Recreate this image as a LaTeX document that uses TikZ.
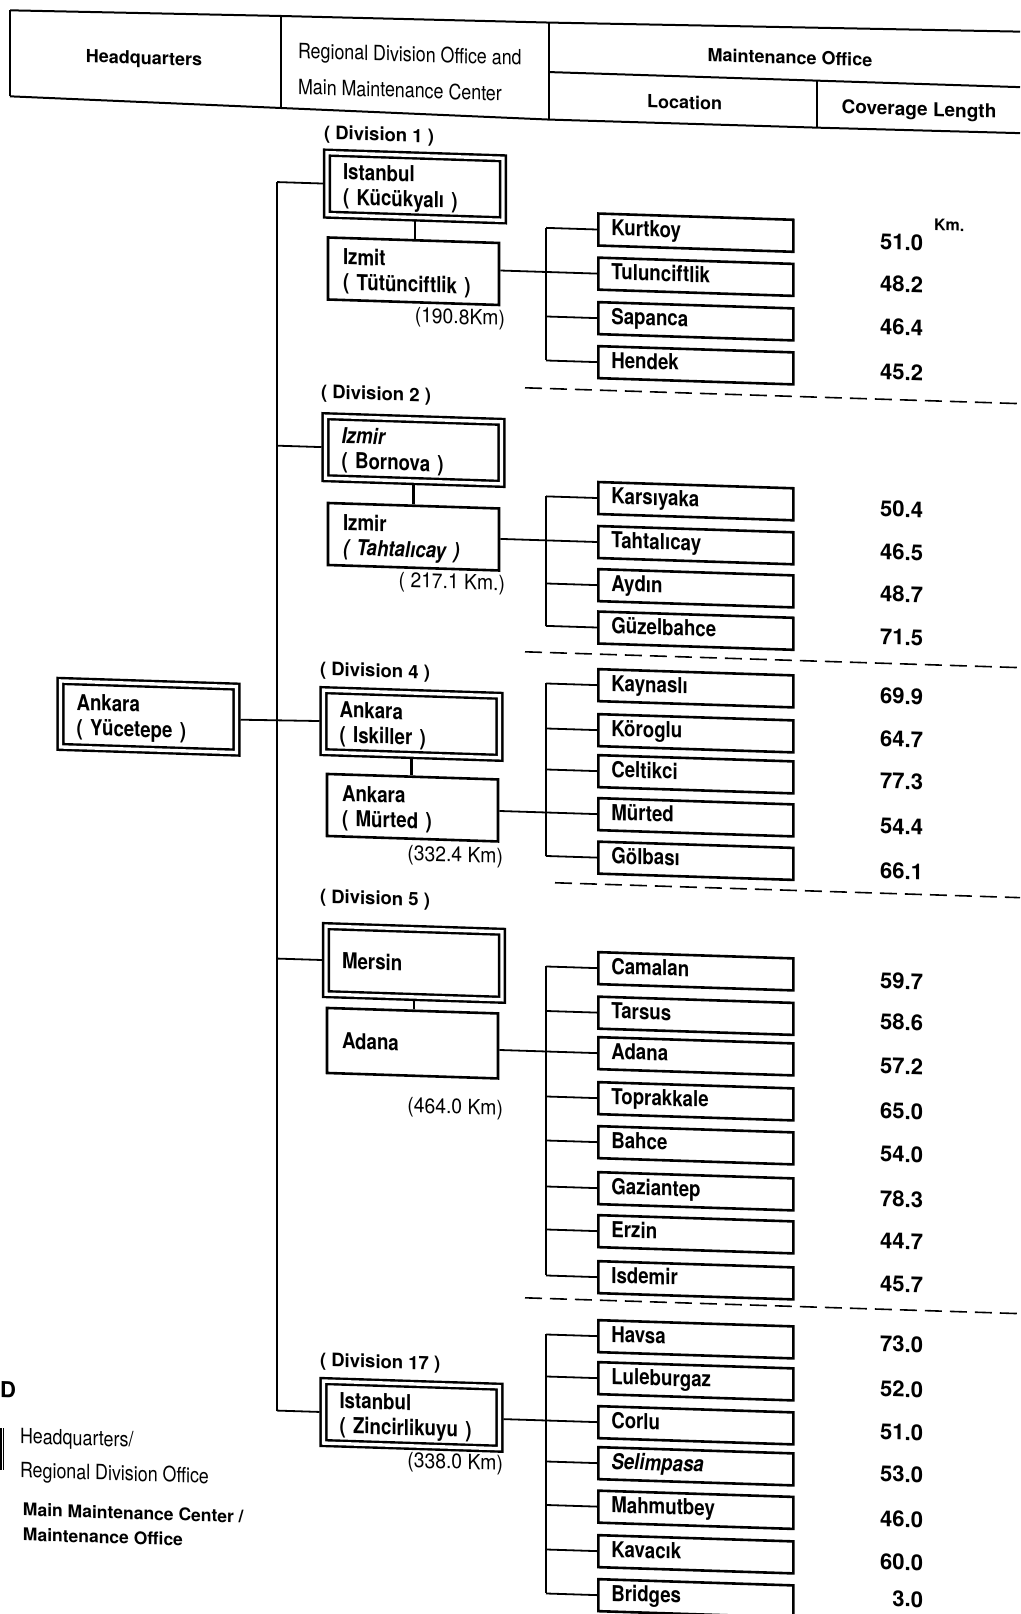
\documentclass[tikz,border=0pt]{standalone}
\usepackage{fontspec}
\setmainfont{TeX Gyre Heros}
\newfontfamily\narrowfont[FakeStretch=0.85]{TeX Gyre Heros}
\newfontfamily\kmfont[FakeStretch=0.92]{TeX Gyre Heros}
\begin{document}
\begin{tikzpicture}[x=1pt,y=-1pt,
  every node/.style={inner sep=0pt, outer sep=0pt},
  rule/.style={line width=2pt},
  link/.style={line width=1.8pt},
  trunkline/.style={line width=2.8pt},
  sepline/.style={line width=1.6pt, dash pattern=on 17pt off 8pt},
  twoline/.style={execute at begin node={\rule{0pt}{21pt}}},
  dbox/.style={draw, line width=2.4pt, double distance=3.4pt, outer sep=4pt,
    minimum width=176pt, minimum height=62pt, inner xsep=16pt, text width=144pt,
    align=left, font=\narrowfont\bfseries\fontsize{22}{25}\selectfont},
  sbox/.style={draw, line width=2.6pt, outer sep=1.3pt,
    minimum width=171pt, minimum height=62pt, inner xsep=15pt, text width=141pt,
    align=left, font=\narrowfont\bfseries\fontsize{22}{25}\selectfont},
  mbox/.style={draw, line width=2.6pt, outer sep=1.3pt, anchor=west,
    minimum width=195pt, minimum height=32pt, inner xsep=13pt, text width=169pt,
    text height=15pt, text depth=4pt, align=left,
    font=\narrowfont\bfseries\fontsize{22}{26}\selectfont},
  num/.style={anchor=east, font=\bfseries\fontsize{22}{26}\selectfont},
  divlbl/.style={anchor=west, font=\bfseries\fontsize{18.5}{22}\selectfont},
  kmlbl/.style={anchor=east, font=\kmfont\fontsize{21}{24}\selectfont},
  head/.style={font=\bfseries\fontsize{18}{22}\selectfont},
  headreg/.style={anchor=west, font=\narrowfont\fontsize{21}{24}\selectfont},
]
\fill[white] (0,0) rectangle (1020,1614);
\useasboundingbox (0,0) rectangle (1020,1614);

\begin{scope}[cm={1,-0.032,0,1,(0pt,16pt)}, transform shape]

% ---------- column headings ----------
\draw[rule] (10,26) -- (281,23) -- (549,21) -- (1020,15);
\draw[rule] (10,112) -- (281,115) -- (549,118) -- (817,117.5) -- (1020,116.5);
\draw[rule] (10,26) -- (10,112);
\draw[rule] (281,23) -- (281,115);
\draw[rule] (549,21) -- (549,118);
\draw[rule] (549,70.5) -- (1020,70.5);
\draw[rule] (817,70.5) -- (817,117.5);
\node[head] (hHQ) at (144,71) {Headquarters};
\node[headreg] (hRegA) at (298,59) {Regional Division Office and};
\node[headreg] (hRegB) at (298,93) {Main Maintenance Center};
\node[head] (hMO) at (790,48) {Maintenance Office};
\node[head] (hLoc) at (684.5,96.5) {Location};
\node[head, font=\bfseries\fontsize{19}{22}\selectfont] (hCov) at (919,97.5) {Coverage Length};

% ---------- headquarters ----------
\node[dbox, twoline, minimum height=66pt] (hq) at (148.5,728) {Ankara\\( Yücetepe )};

% ---------- regional divisions ----------
\node[divlbl] (l1) at (324,139.8) {( Division 1 )};
\node[dbox, twoline] (d1) at (415,189.2) {Istanbul\\( Kücükyalı )};
\node[sbox, twoline] (d1m) at (413.5,274) {Izmit\\( Tütünciftlik )};
\node[kmlbl] (k1) at (505,320) {(190.8Km)};

\node[divlbl] (l2) at (321,399) {( Division 2 )};
\node[dbox, twoline] (d2) at (413.5,452.8) {{\itshape Izmir}\\( Bornova )};
\node[sbox, twoline] (d2m) at (413.5,539.5) {Izmir\\{\itshape ( Tahtalıcay )}};
\node[kmlbl] (k2) at (505,585) {( 217.1 Km.)};

\node[divlbl] (l4) at (320,676) {( Division 4 )};
\node[dbox, twoline] (d4) at (411.5,726.8) {Ankara\\( Iskiller )};
\node[sbox, twoline] (d4m) at (412.5,810.5) {Ankara\\( Mürted )};
\node[kmlbl] (k4) at (503,858) {(332.4 Km)};

\node[divlbl] (l5) at (320,903.5) {( Division 5 )};
\node[dbox, minimum height=68pt] (d5) at (414,965.7) {Mersin};
\node[sbox, minimum height=65pt] (d5m) at (412.5,1046) {Adana};
\node[kmlbl] (k5) at (503,1110) {(464.0 Km)};

\node[divlbl] (l17) at (320,1367) {( Division 17 )};
\node[dbox, twoline] (d17) at (411.5,1417.7) {Istanbul\\( Zincirlikuyu )};
\node[kmlbl] (k17) at (503,1465) {(338.0 Km)};

% ---------- maintenance offices ----------
\node[mbox] (m11) at (597,226.4) {Kurtkoy};
\node[mbox] (m12) at (597,270.5) {Tulunciftlik};
\node[mbox] (m13) at (597,315) {Sapanca};
\node[mbox] (m14) at (597,359) {Hendek};

\node[mbox] (m21) at (597,494.9) {Karsıyaka};
\node[mbox] (m22) at (597,538.9) {Tahtalıcay};
\node[mbox] (m23) at (597,582) {Aydın};
\node[mbox] (m24) at (597,624.4) {Güzelbahce};

\node[mbox] (m41) at (597,682) {Kaynaslı};
\node[mbox] (m42) at (597,727) {Köroglu};
\node[mbox] (m43) at (597,768) {Celtikci};
\node[mbox] (m44) at (597,811) {Mürted};
\node[mbox] (m45) at (597,854.5) {Gölbası};

\node[mbox] (m51) at (597,965) {Camalan};
\node[mbox] (m52) at (597,1009.5) {Tarsus};
\node[mbox] (m53) at (597,1050) {Adana};
\node[mbox] (m54) at (597,1095) {Toprakkale};
\node[mbox] (m55) at (597,1139) {Bahce};
\node[mbox] (m56) at (597,1185) {Gaziantep};
\node[mbox] (m57) at (597,1228) {Erzin};
\node[mbox] (m58) at (597,1274) {Isdemir};

\node[mbox] (m171) at (597,1333) {Havsa};
\node[mbox] (m172) at (597,1375) {Luleburgaz};
\node[mbox] (m173) at (597,1419) {Corlu};
\node[mbox] (m174) at (597,1460) {\itshape Selimpasa};
\node[mbox] (m175) at (597,1503.5) {Mahmutbey};
\node[mbox] (m176) at (597,1548) {Kavacık};
\node[mbox] (m177) at (597,1592) {Bridges};

% ---------- coverage lengths ----------
\node[num] (n11) at (923,229.5) {51.0};
\node[anchor=west, font=\bfseries\fontsize{16}{19}\selectfont] (unit) at (934,210.7) {Km.};
\node[num] (n12) at (923,271.5) {48.2};
\node[num] (n13) at (923,314.5) {46.4};
\node[num] (n14) at (923,359.5) {45.2};

\node[num] (n21) at (923,496.5) {50.4};
\node[num] (n22) at (923,539.5) {46.5};
\node[num] (n23) at (923,581.5) {48.7};
\node[num] (n24) at (923,624.5) {71.5};

\node[num] (n41) at (923,683.5) {69.9};
\node[num] (n42) at (923,726.5) {64.7};
\node[num] (n43) at (923,768.5) {77.3};
\node[num] (n44) at (923,814) {54.4};
\node[num] (n45) at (923,858.5) {66.1};

\node[num] (n51) at (923,968.5) {59.7};
\node[num] (n52) at (923,1009.5) {58.6};
\node[num] (n53) at (923,1053.5) {57.2};
\node[num] (n54) at (923,1098.5) {65.0};
\node[num] (n55) at (923,1141.5) {54.0};
\node[num] (n56) at (923,1186.5) {78.3};
\node[num] (n57) at (923,1228.5) {44.7};
\node[num] (n58) at (923,1271.5) {45.7};

\node[num] (n171) at (923,1331.5) {73.0};
\node[num] (n172) at (923,1376.5) {52.0};
\node[num] (n173) at (923,1419.5) {51.0};
\node[num] (n174) at (923,1461.5) {53.0};
\node[num] (n175) at (923,1506.5) {46.0};
\node[num] (n176) at (923,1549.5) {60.0};
\node[num] (n177) at (923,1586) {3.0};

% ---------- separators between divisions ----------
\coordinate (s1a) at (525,387);  \coordinate (s1b) at (1020,387);
\coordinate (s2a) at (525,651);  \coordinate (s2b) at (1020,651);
\coordinate (s3a) at (555,881);  \coordinate (s3b) at (1020,881);
\coordinate (s4a) at (525,1297); \coordinate (s4b) at (1020,1297);
\draw[sepline] (s1a) -- (s1b);
\draw[sepline] (s2a) -- (s2b);
\draw[sepline] (s3a) -- (s3b);
\draw[sepline] (s4a) -- (s4b);

% ---------- connectors ----------
\coordinate (tk) at (277,0);
\coordinate (bk) at (546,0);
\draw[trunkline] (d1.west -| tk) -- (d17.west -| tk);
\foreach \d in {d1,d2,d5,d17} \draw[link] (\d.west -| tk) -- (\d.west);
\draw[link] (hq.east) -- (d4.west);

\foreach \u/\v in {d1/d1m,d2/d2m,d4/d4m,d5/d5m}
  \draw[line width=2.4pt] (\u.south) -- (\u.south |- \v.north);

\draw[link] (m11.west -| bk) -- (m14.west -| bk);
\draw[link] (m21.west -| bk) -- (m24.west -| bk);
\draw[link] (m41.west -| bk) -- (m45.west -| bk);
\draw[link] (m51.west -| bk) -- (m58.west -| bk);
\draw[link] (m171.west -| bk) -- (m177.west -| bk);
\foreach \m in {m11,m12,m13,m14,m21,m22,m23,m24,m41,m42,m43,m44,m45,
                m51,m52,m53,m54,m55,m56,m57,m58,
                m171,m172,m173,m174,m175,m176,m177}
  \draw[link] (\m.west -| bk) -- (\m.west);

\draw[link] (d1m.east |- m12.west) -- (m12.west -| bk);
\draw[link] (d2m.east |- m22.west) -- (m22.west -| bk);
\draw[link] (d4m.east |- m44.west) -- (m44.west -| bk);
\draw[link] (d5m.east |- m53.west) -- (m53.west -| bk);
\draw[link] (d17.east |- m173.west) -- (m173.west -| bk);

% ---------- legend ----------
\node[anchor=west, font=\bfseries\fontsize{22}{26}\selectfont] (lgD) at (0,1405.7) {D};
\draw[line width=1.6pt] (0.9,1444) -- (0.9,1486);
\draw[line width=1.6pt] (3.4,1444) -- (3.4,1486);
\node[anchor=west, font=\narrowfont\fontsize{21}{24}\selectfont] (lgA) at (20,1453.4) {Headquarters/};
\node[anchor=west, font=\narrowfont\fontsize{21}{24}\selectfont] (lgB) at (20,1487.2) {Regional Division Office};
\node[anchor=west, font=\bfseries\fontsize{17.5}{21}\selectfont] (lgC) at (23,1524.7) {Main Maintenance Center /};
\node[anchor=west, font=\bfseries\fontsize{17.5}{21}\selectfont] (lgE) at (23,1549.7) {Maintenance Office};

\end{scope}
\end{tikzpicture}
\end{document}
